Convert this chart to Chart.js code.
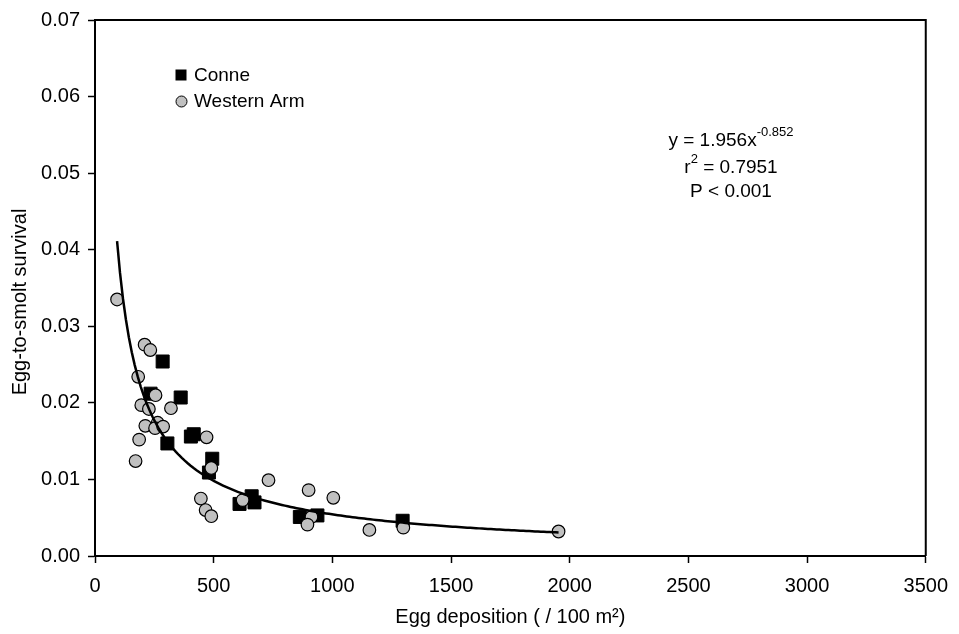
<!DOCTYPE html>
<html>
<head>
<meta charset="utf-8">
<script src="https://cdn.jsdelivr.net/npm/chart.js@4.4.0/dist/chart.umd.min.js"></script>
<style>
  body { margin: 0; background: #fff; }
  canvas { display: block; }
</style>
</head>
<body>
<canvas id="myChart" width="959" height="634"></canvas>
<script>
// Conne (squares)
const conneX = [285, 234, 361, 305, 404, 416, 494, 480, 609, 660, 672, 863, 937, 1296];
const conneY = [0.0254, 0.0212, 0.0207, 0.0147, 0.0156, 0.0159, 0.0127, 0.0109, 0.0068, 0.0078, 0.0070, 0.0051, 0.0053, 0.0046];

// Western Arm (circles)
const westernX = [93, 209, 233, 182, 255, 195, 227, 320, 212, 264, 253, 287, 186, 470, 171, 490, 731, 446, 466, 490, 622, 900, 1004, 912, 895, 1156, 1299, 1953];
const westernY = [0.0335, 0.0276, 0.0269, 0.0234, 0.0210, 0.0197, 0.0192, 0.0193, 0.0170, 0.0174, 0.0167, 0.0169, 0.0152, 0.0155, 0.0124, 0.0115, 0.0099, 0.0075, 0.0060, 0.0052, 0.0073, 0.0086, 0.0076, 0.0051, 0.0041, 0.0034, 0.0037, 0.0032];

// fitted power curve y = a * x^b
const fitA = 1.956;
const fitB = -0.852;
const fitFrom = 93;
const fitTo = 1953;

const xTicks = [0, 500, 1000, 1500, 2000, 2500, 3000, 3500];
const yTicks = [0.00, 0.01, 0.02, 0.03, 0.04, 0.05, 0.06, 0.07];

const FONT = 'Liberation Sans, Arial, sans-serif';

const toPoints = (xs, ys) => xs.map((x, i) => ({ x: x, y: ys[i] }));

const curve = [];
for (let i = 0; i <= 150; i++) {
    const x = fitFrom + (fitTo - fitFrom) * i / 150;
    curve.push({ x: x, y: fitA * Math.pow(x, fitB) });
}

// top/right frame, y title, legend and equation text
const extras = {
    id: 'extras',
    afterDraw(chart) {
        const c = chart.ctx;
        const a = chart.chartArea;
        c.save();
        c.strokeStyle = '#000';
        c.lineWidth = 2;
        c.beginPath();
        c.moveTo(a.left, a.top);
        c.lineTo(a.right, a.top);
        c.lineTo(a.right, a.bottom);
        c.stroke();

        // y axis title
        c.save();
        c.translate(20, 302);
        c.rotate(-Math.PI / 2);
        c.font = '20px ' + FONT;
        c.fillStyle = '#000';
        c.textAlign = 'center';
        c.textBaseline = 'middle';
        c.fillText('Egg-to-smolt survival', 0, 0);
        c.restore();

        // legend
        c.fillStyle = '#000';
        c.fillRect(175.5, 69.5, 11, 11);
        c.beginPath();
        c.arc(181.5, 101.5, 5.5, 0, Math.PI * 2);
        c.fillStyle = '#c0c0c0';
        c.fill();
        c.lineWidth = 1;
        c.strokeStyle = '#000';
        c.stroke();
        c.fillStyle = '#000';
        c.font = '19px ' + FONT;
        c.textAlign = 'left';
        c.textBaseline = 'alphabetic';
        c.fillText('Conne', 194, 81);
        c.fillText('Western Arm', 194, 107);

        // equation
        const cx = 731;
        const big = '19px ' + FONT;
        const small = '13px ' + FONT;
        const line = (parts, base) => {
            let w = 0;
            parts.forEach(p => { c.font = p.sup ? small : big; w += c.measureText(p.t).width; });
            let x = cx - w / 2;
            parts.forEach(p => {
                c.font = p.sup ? small : big;
                c.fillText(p.t, x, p.sup ? base - 10 : base);
                x += c.measureText(p.t).width;
            });
        };
        line([{ t: 'y = 1.956x' }, { t: '-0.852', sup: true }], 146);
        line([{ t: 'r' }, { t: '2', sup: true }, { t: ' = 0.7951' }], 173);
        line([{ t: 'P < 0.001' }], 197);
        c.restore();
    }
};

const ctx = document.getElementById('myChart');

new Chart(ctx, {
    type: 'scatter',
    data: {
        datasets: [
            {
                label: 'Conne',
                data: toPoints(conneX, conneY),
                pointStyle: 'rect',
                pointRadius: 9.2,
                pointHoverRadius: 9.2,
                backgroundColor: '#000',
                borderColor: '#000',
                borderWidth: 1,
                order: 2
            },
            {
                label: 'Western Arm',
                data: toPoints(westernX, westernY),
                pointStyle: 'circle',
                pointRadius: 6.3,
                pointHoverRadius: 6.3,
                backgroundColor: '#c0c0c0',
                borderColor: '#000',
                borderWidth: 1.2,
                order: 1
            },
            {
                type: 'line',
                label: 'fit',
                data: curve,
                borderColor: '#000',
                borderWidth: 2.5,
                pointRadius: 0,
                fill: false,
                tension: 0,
                order: 0
            }
        ]
    },
    options: {
        responsive: false,
        devicePixelRatio: 1,
        animation: false,
        layout: { autoPadding: false, padding: { left: 0, right: 26, top: 16, bottom: 0 } },
        plugins: {
            legend: { display: false },
            tooltip: { enabled: false }
        },
        scales: {
            x: {
                type: 'linear',
                min: 0,
                max: 3500,
                afterFit: s => { s.height = 78; },
                afterBuildTicks: s => { s.ticks = xTicks.map(v => ({ value: v })); },
                ticks: {
                    color: '#000',
                    font: { family: FONT, size: 20 },
                    padding: 11,
                    maxRotation: 0,
                    callback: v => String(v)
                },
                grid: { drawOnChartArea: false, drawTicks: true, tickLength: 7, tickColor: '#000', tickWidth: 1.5 },
                border: { display: true, color: '#000', width: 2 },
                title: {
                    display: true,
                    text: 'Egg deposition ( / 100 m²)',
                    color: '#000',
                    font: { family: FONT, size: 20 },
                    padding: { top: 0, bottom: 5 }
                }
            },
            y: {
                min: 0,
                max: 0.07,
                afterFit: s => { s.width = 95; },
                afterBuildTicks: s => { s.ticks = yTicks.map(v => ({ value: v })); },
                ticks: {
                    color: '#000',
                    font: { family: FONT, size: 20 },
                    padding: 8,
                    callback: v => v.toFixed(2)
                },
                grid: { drawOnChartArea: false, drawTicks: true, tickLength: 7, tickColor: '#000', tickWidth: 1.5 },
                border: { display: true, color: '#000', width: 2 }
            }
        }
    },
    plugins: [extras]
});
</script>
</body>
</html>
